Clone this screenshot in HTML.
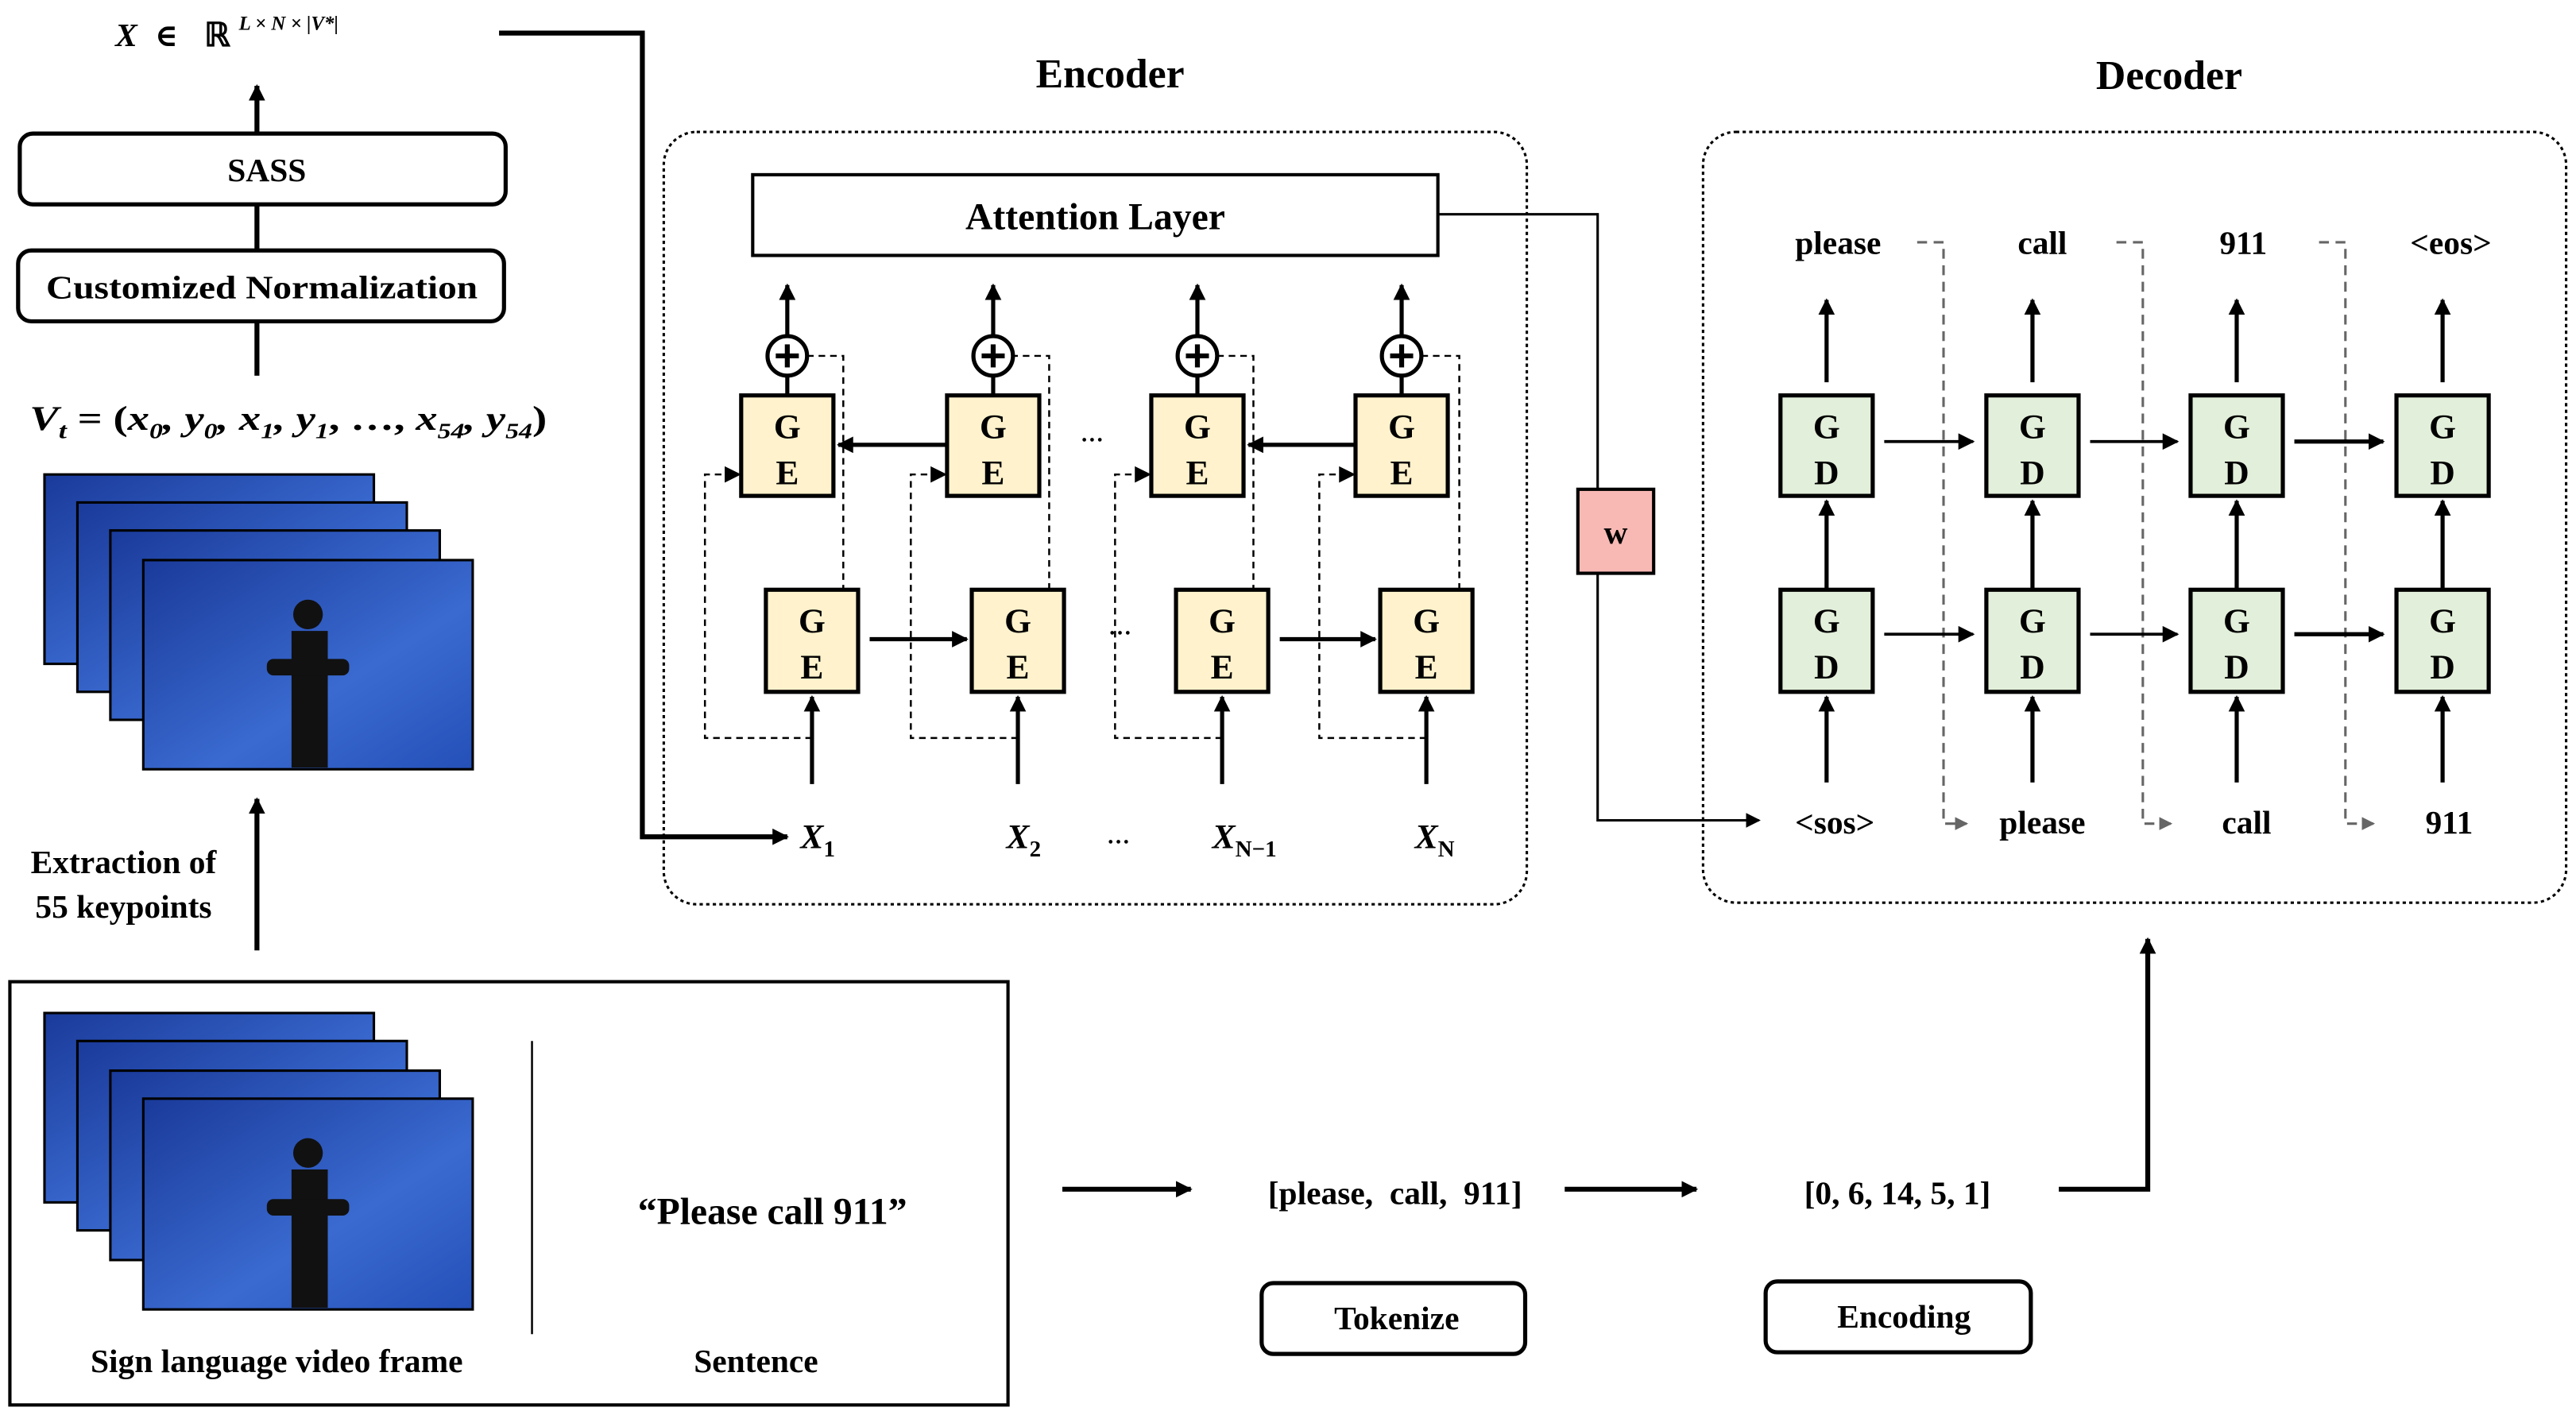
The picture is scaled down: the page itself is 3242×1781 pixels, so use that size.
<!DOCTYPE html>
<html><head><meta charset="utf-8"><style>
html,body{margin:0;padding:0;background:#fff}
svg{display:block}
svg text{font-family:"Liberation Serif","DejaVu Serif",serif;font-weight:700;fill:#000}
</style></head><body>
<svg width="3242" height="1781" viewBox="0 0 1564 859" xmlns="http://www.w3.org/2000/svg" font-family="Liberation Serif, DejaVu Serif, serif" font-weight="700">
<defs>
<marker id="a" markerWidth="10" markerHeight="10" refX="9" refY="5" orient="auto" markerUnits="userSpaceOnUse"><path d="M0,0 L10,5 L0,10 z" fill="#000"/></marker>
<marker id="g" markerWidth="8" markerHeight="8" refX="7" refY="4" orient="auto" markerUnits="userSpaceOnUse"><path d="M0,0 L8,4 L0,8 z" fill="#666"/></marker>
<marker id="d" markerWidth="9" markerHeight="9" refX="8" refY="4.5" orient="auto" markerUnits="userSpaceOnUse"><path d="M0,0 L9,4.5 L0,9 z" fill="#000"/></marker>
<linearGradient id="bg" x1="0" y1="0" x2="1" y2="1"><stop offset="0" stop-color="#1a3a9a"/><stop offset="0.6" stop-color="#3a6ad0"/><stop offset="1" stop-color="#2450b8"/></linearGradient>
</defs>

<text x="70" y="28" font-size="20" font-style="italic">X</text>
<text x="94" y="28" font-size="19">∈</text>
<text x="124" y="28" font-size="20">ℝ</text>
<text x="145" y="18" font-size="12" font-style="italic">L × N × |V*|</text>
<path d="M303,20 H390 V508 H478" stroke="#000" stroke-width="3" fill="none" marker-end="url(#a)"/>

<line x1="156" y1="80" x2="156" y2="52" stroke="#000" stroke-width="3" marker-end="url(#a)"/>
<rect x="12" y="81" width="295" height="43" rx="8" fill="#fff" stroke="#000" stroke-width="2.5"/>
<text x="162" y="110" font-size="20" text-anchor="middle">SASS</text>
<line x1="156" y1="124" x2="156" y2="152" stroke="#000" stroke-width="3"/>
<rect x="11" y="152" width="295" height="43" rx="8" fill="#fff" stroke="#000" stroke-width="2.5"/>
<text x="159" y="181" font-size="20" text-anchor="middle" textLength="262" lengthAdjust="spacingAndGlyphs">Customized Normalization</text>
<line x1="156" y1="195" x2="156" y2="228" stroke="#000" stroke-width="3"/>
<text x="18" y="261" font-size="21" font-style="italic" textLength="314" lengthAdjust="spacingAndGlyphs">V<tspan font-size="14" dy="5">t</tspan><tspan dy="-5" font-style="normal"> = (</tspan>x<tspan font-size="13" dy="5">0</tspan><tspan dy="-5">, y</tspan><tspan font-size="13" dy="5">0</tspan><tspan dy="-5">, x</tspan><tspan font-size="13" dy="5">1</tspan><tspan dy="-5">, y</tspan><tspan font-size="13" dy="5">1</tspan><tspan dy="-5" font-style="normal">, …, </tspan>x<tspan font-size="13" dy="5">54</tspan><tspan dy="-5">, y</tspan><tspan font-size="13" dy="5">54</tspan><tspan dy="-5" font-style="normal">)</tspan></text>

<g stroke="#000" stroke-width="1.5" fill="url(#bg)">
<rect x="27" y="288" width="200" height="115"/>
<rect x="47" y="305" width="200" height="115"/>
<rect x="67" y="322" width="200" height="115"/>
<rect x="87" y="340" width="200" height="127"/>
</g>
<g fill="#111"><circle cx="187" cy="373" r="9"/><rect x="177" y="383" width="22" height="83"/><rect x="162" y="400" width="50" height="10" rx="4"/></g>

<line x1="156" y1="577" x2="156" y2="485" stroke="#000" stroke-width="3" marker-end="url(#a)"/>
<text x="75" y="530" font-size="20" text-anchor="middle">Extraction of</text>
<text x="75" y="557" font-size="20" text-anchor="middle">55 keypoints</text>

<rect x="6" y="596" width="606" height="257" fill="#fff" stroke="#000" stroke-width="2"/>
<g stroke="#000" stroke-width="1.5" fill="url(#bg)">
<rect x="27" y="615" width="200" height="115"/>
<rect x="47" y="632" width="200" height="115"/>
<rect x="67" y="650" width="200" height="115"/>
<rect x="87" y="667" width="200" height="128"/>
</g>
<g fill="#111"><circle cx="187" cy="700" r="9"/><rect x="177" y="710" width="22" height="84"/><rect x="162" y="728" width="50" height="10" rx="4"/></g>
<line x1="323" y1="632" x2="323" y2="810" stroke="#000" stroke-width="1.2"/>
<text x="469" y="743" font-size="23" text-anchor="middle">“Please call 911”</text>
<text x="168" y="833" font-size="20" text-anchor="middle">Sign language video frame</text>
<text x="459" y="833" font-size="20" text-anchor="middle">Sentence</text>

<line x1="645" y1="722" x2="723" y2="722" stroke="#000" stroke-width="3" marker-end="url(#a)"/>
<text x="847" y="731" font-size="20" text-anchor="middle" xml:space="preserve">[please,  call,  911]</text>
<line x1="950" y1="722" x2="1030" y2="722" stroke="#000" stroke-width="3" marker-end="url(#a)"/>
<text x="1152" y="731" font-size="20" text-anchor="middle">[0, 6, 14, 5, 1]</text>
<path d="M1250,722 H1304 V570" stroke="#000" stroke-width="3" fill="none" marker-end="url(#a)"/>
<rect x="766" y="779" width="160" height="43" rx="7" fill="#fff" stroke="#000" stroke-width="2.5"/>
<text x="848" y="807" font-size="20" text-anchor="middle">Tokenize</text>
<rect x="1072" y="778" width="161" height="43" rx="7" fill="#fff" stroke="#000" stroke-width="2.5"/>
<text x="1156" y="806" font-size="20" text-anchor="middle">Encoding</text>

<text x="674" y="53" font-size="25" text-anchor="middle">Encoder</text>
<rect x="403" y="80" width="524" height="469" rx="20" fill="none" stroke="#000" stroke-width="1.5" stroke-dasharray="2,2"/>
<rect x="457" y="106" width="416" height="49" fill="#fff" stroke="#000" stroke-width="2"/>
<text x="665" y="139" font-size="23" text-anchor="middle">Attention Layer</text>
<path d="M873,130 H970 V297" stroke="#000" stroke-width="1.5" fill="none"/>
<rect x="958" y="297" width="46" height="51" fill="#f8b9b4" stroke="#000" stroke-width="2"/>
<text x="981" y="330" font-size="20" text-anchor="middle" font-family="Liberation Sans, sans-serif">w</text>
<path d="M970,348 V498 H1068" stroke="#000" stroke-width="1.5" fill="none" marker-end="url(#d)"/>

<g stroke="#000" stroke-width="1.2" fill="none" stroke-dasharray="4,3">
<path d="M493,448 H428 V288 H440"/><path d="M490,216 H512 V358"/>
<path d="M618,448 H553 V288 H565"/><path d="M614,216 H637 V358"/>
<path d="M742,448 H677 V288 H689"/><path d="M739,216 H761 V358"/>
<path d="M866,448 H801 V288 H813"/><path d="M863,216 H886 V358"/>
</g>
<g fill="#000">
<path d="M440,283 L450,288 L440,293z"/><path d="M565,283 L575,288 L565,293z"/><path d="M689,283 L699,288 L689,293z"/><path d="M813,283 L823,288 L813,293z"/>
</g>
<g stroke="#000" stroke-width="2.5" fill="#fff2cc">
<rect x="450" y="240" width="56" height="61"/><rect x="575" y="240" width="56" height="61"/><rect x="699" y="240" width="56" height="61"/><rect x="823" y="240" width="56" height="61"/>
<rect x="465" y="358" width="56" height="62"/><rect x="590" y="358" width="56" height="62"/><rect x="714" y="358" width="56" height="62"/><rect x="838" y="358" width="56" height="62"/>
</g>
<g font-size="21" text-anchor="middle">
<text x="478" y="266">G</text><text x="478" y="294">E</text>
<text x="603" y="266">G</text><text x="603" y="294">E</text>
<text x="727" y="266">G</text><text x="727" y="294">E</text>
<text x="851" y="266">G</text><text x="851" y="294">E</text>
<text x="493" y="384">G</text><text x="493" y="412">E</text>
<text x="618" y="384">G</text><text x="618" y="412">E</text>
<text x="742" y="384">G</text><text x="742" y="412">E</text>
<text x="866" y="384">G</text><text x="866" y="412">E</text>
</g>
<g stroke="#000" stroke-width="2.5" fill="none">
<line x1="478" y1="240" x2="478" y2="228"/><line x1="603" y1="240" x2="603" y2="228"/><line x1="727" y1="240" x2="727" y2="228"/><line x1="851" y1="240" x2="851" y2="228"/>
<line x1="478" y1="204" x2="478" y2="173" marker-end="url(#a)"/><line x1="603" y1="204" x2="603" y2="173" marker-end="url(#a)"/><line x1="727" y1="204" x2="727" y2="173" marker-end="url(#a)"/><line x1="851" y1="204" x2="851" y2="173" marker-end="url(#a)"/>
<circle cx="478" cy="216" r="12" fill="#fff"/><circle cx="603" cy="216" r="12" fill="#fff"/><circle cx="727" cy="216" r="12" fill="#fff"/><circle cx="851" cy="216" r="12" fill="#fff"/>
<line x1="575" y1="270" x2="509" y2="270" marker-end="url(#a)"/><line x1="823" y1="270" x2="758" y2="270" marker-end="url(#a)"/>
<line x1="528" y1="388" x2="587" y2="388" marker-end="url(#a)"/><line x1="777" y1="388" x2="835" y2="388" marker-end="url(#a)"/>
<line x1="493" y1="476" x2="493" y2="423" marker-end="url(#a)"/><line x1="618" y1="476" x2="618" y2="423" marker-end="url(#a)"/><line x1="742" y1="476" x2="742" y2="423" marker-end="url(#a)"/><line x1="866" y1="476" x2="866" y2="423" marker-end="url(#a)"/>
</g>
<g stroke="#000" stroke-width="3">
<line x1="471" y1="216" x2="485" y2="216"/><line x1="478" y1="209" x2="478" y2="223"/>
<line x1="596" y1="216" x2="610" y2="216"/><line x1="603" y1="209" x2="603" y2="223"/>
<line x1="720" y1="216" x2="734" y2="216"/><line x1="727" y1="209" x2="727" y2="223"/>
<line x1="844" y1="216" x2="858" y2="216"/><line x1="851" y1="209" x2="851" y2="223"/>
</g>
<g font-size="14" text-anchor="middle"><text x="663" y="268">…</text><text x="680" y="385">…</text><text x="679" y="512">…</text></g>
<g font-size="21" font-style="italic">
<text x="486" y="515">X<tspan font-size="14" font-style="normal" dy="5">1</tspan></text>
<text x="611" y="515">X<tspan font-size="14" font-style="normal" dy="5">2</tspan></text>
<text x="736" y="515">X<tspan font-size="14" font-style="normal" dy="5">N−1</tspan></text>
<text x="859" y="515">X<tspan font-size="14" font-style="normal" dy="5">N</tspan></text>
</g>

<text x="1317" y="54" font-size="25" text-anchor="middle">Decoder</text>
<rect x="1034" y="80" width="524" height="468" rx="20" fill="none" stroke="#000" stroke-width="1.5" stroke-dasharray="2,2"/>
<g stroke="#666" stroke-width="1.5" fill="none" stroke-dasharray="6,4">
<path d="M1164,147 H1180 V500 H1194" marker-end="url(#g)"/>
<path d="M1285,147 H1301 V500 H1318" marker-end="url(#g)"/>
<path d="M1408,147 H1424 V500 H1441" marker-end="url(#g)"/>
</g>
<g stroke="#000" stroke-width="2.5" fill="#e2efda">
<rect x="1081" y="240" width="56" height="61"/><rect x="1206" y="240" width="56" height="61"/><rect x="1330" y="240" width="56" height="61"/><rect x="1455" y="240" width="56" height="61"/>
<rect x="1081" y="358" width="56" height="62"/><rect x="1206" y="358" width="56" height="62"/><rect x="1330" y="358" width="56" height="62"/><rect x="1455" y="358" width="56" height="62"/>
</g>
<g font-size="21" text-anchor="middle">
<text x="1109" y="266">G</text><text x="1109" y="294">D</text>
<text x="1234" y="266">G</text><text x="1234" y="294">D</text>
<text x="1358" y="266">G</text><text x="1358" y="294">D</text>
<text x="1483" y="266">G</text><text x="1483" y="294">D</text>
<text x="1109" y="384">G</text><text x="1109" y="412">D</text>
<text x="1234" y="384">G</text><text x="1234" y="412">D</text>
<text x="1358" y="384">G</text><text x="1358" y="412">D</text>
<text x="1483" y="384">G</text><text x="1483" y="412">D</text>
</g>
<g stroke="#000" stroke-width="2.5" fill="none">
<line x1="1109" y1="358" x2="1109" y2="304" marker-end="url(#a)"/><line x1="1234" y1="358" x2="1234" y2="304" marker-end="url(#a)"/><line x1="1358" y1="358" x2="1358" y2="304" marker-end="url(#a)"/><line x1="1483" y1="358" x2="1483" y2="304" marker-end="url(#a)"/>
<line x1="1109" y1="232" x2="1109" y2="182" marker-end="url(#a)"/><line x1="1234" y1="232" x2="1234" y2="182" marker-end="url(#a)"/><line x1="1358" y1="232" x2="1358" y2="182" marker-end="url(#a)"/><line x1="1483" y1="232" x2="1483" y2="182" marker-end="url(#a)"/>
<line x1="1109" y1="475" x2="1109" y2="423" marker-end="url(#a)"/><line x1="1234" y1="475" x2="1234" y2="423" marker-end="url(#a)"/><line x1="1358" y1="475" x2="1358" y2="423" marker-end="url(#a)"/><line x1="1483" y1="475" x2="1483" y2="423" marker-end="url(#a)"/>
<line x1="1144" y1="268" x2="1198" y2="268" stroke-width="1.8" marker-end="url(#a)"/><line x1="1269" y1="268" x2="1322" y2="268" stroke-width="1.8" marker-end="url(#a)"/><line x1="1393" y1="268" x2="1447" y2="268" stroke-width="2.5" marker-end="url(#a)"/>
<line x1="1144" y1="385" x2="1198" y2="385" stroke-width="1.8" marker-end="url(#a)"/><line x1="1269" y1="385" x2="1322" y2="385" stroke-width="1.8" marker-end="url(#a)"/><line x1="1393" y1="385" x2="1447" y2="385" stroke-width="2.5" marker-end="url(#a)"/>
</g>
<g font-size="20" text-anchor="middle">
<text x="1116" y="154">please</text><text x="1240" y="154">call</text><text x="1362" y="154">911</text><text x="1488" y="154">&lt;eos&gt;</text>
<text x="1114" y="506">&lt;sos&gt;</text><text x="1240" y="506">please</text><text x="1364" y="506">call</text><text x="1487" y="506">911</text>
</g>
</svg>
</body></html>
